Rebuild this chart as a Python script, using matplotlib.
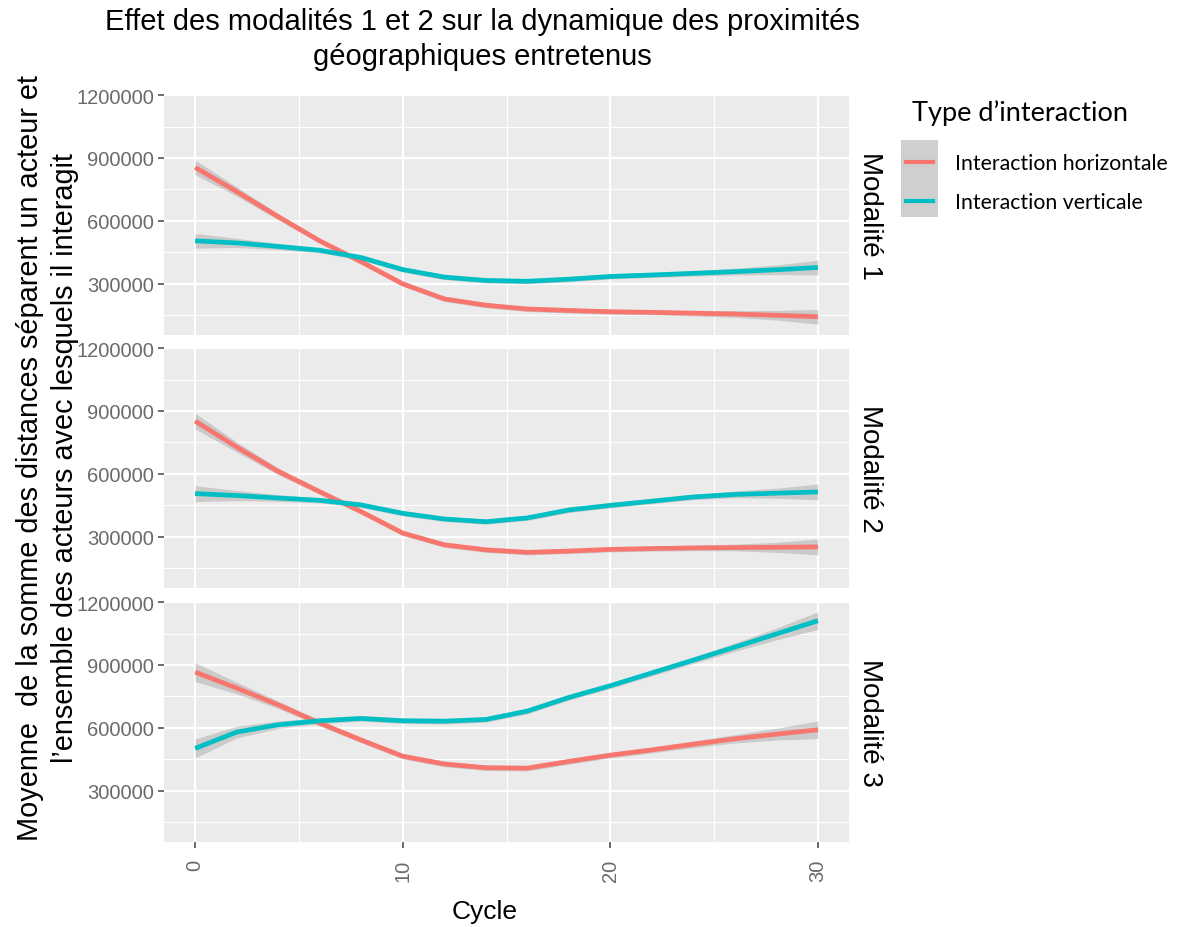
import matplotlib
matplotlib.use('Agg')
import matplotlib.pyplot as plt
from matplotlib.ticker import FixedLocator, NullFormatter
from matplotlib.patches import Rectangle
from matplotlib.lines import Line2D
import numpy as np

# ---------------- data ----------------
cycles = [0, 2, 4, 6, 8, 10, 12, 14, 16, 18, 20, 22, 24, 26, 28, 30]

horiz_m1 = [855000, 740000, 620000, 505000, 405000, 300000, 228000, 198000,
            180000, 173000, 167000, 164000, 160000, 156000, 150000, 143000]
vert_m1 = [505000, 495000, 478000, 460000, 425000, 368000, 332000, 316000,
           312000, 322000, 335000, 342000, 350000, 358000, 367000, 378000]

horiz_m2 = [852000, 728000, 612000, 515000, 420000, 318000, 262000, 238000,
            226000, 232000, 240000, 244000, 247000, 249000, 250000, 252000]
vert_m2 = [506000, 497000, 485000, 474000, 452000, 412000, 385000, 372000,
           390000, 428000, 450000, 470000, 490000, 502000, 508000, 514000]

horiz_m3 = [866000, 790000, 710000, 623000, 542000, 465000, 428000, 410000,
            408000, 440000, 470000, 495000, 522000, 548000, 570000, 591000]
vert_m3 = [502000, 580000, 615000, 634000, 645000, 634000, 632000, 640000,
           680000, 745000, 801000, 862000, 923000, 985000, 1048000, 1111000]

# half-width of the grey confidence ribbons
band_m1 = [35000, 22000, 15000, 12000, 12000, 12000, 12000, 12000,
           12000, 12000, 12000, 12000, 13000, 16000, 23000, 35000]
band_m2 = [38000, 24000, 16000, 12000, 12000, 12000, 12000, 12000,
           12000, 12000, 12000, 12000, 13000, 16000, 24000, 38000]
band_m3 = [45000, 28000, 18000, 14000, 13000, 13000, 13000, 13000,
           13000, 13000, 13000, 14000, 16000, 20000, 28000, 42000]

panel_labels = ['Modalité 1', 'Modalité 2', 'Modalité 3']
series_labels = ['Interaction horizontale', 'Interaction verticale']
series_colors = ['#F8766D', '#00BFC4']
y_major = [300000, 600000, 900000, 1200000]
y_minor = [150000, 450000, 750000, 1050000]
x_major = [0, 10, 20, 30]
x_minor = [5, 15, 25]

panels = [(horiz_m1, vert_m1, band_m1),
          (horiz_m2, vert_m2, band_m2),
          (horiz_m3, vert_m3, band_m3)]

# ---------------- figure ----------------
W, H = 1179, 928
fig = plt.figure(figsize=(W / 100, H / 100), dpi=100)
fig.patch.set_facecolor('white')

def rect(l, t, r, b):
    return [l / W, 1 - b / H, (r - l) / W, (b - t) / H]

FONT = 'Liberation Sans'
tops = [95, 348, 602]
ph = 241
x = np.array(cycles, dtype=float)

for i, (top, (h, v, band)) in enumerate(zip(tops, panels)):
    ax = fig.add_axes(rect(164, top, 849, top + ph))
    ax.set_facecolor('#EBEBEB')
    for s in ax.spines.values():
        s.set_visible(False)
    ax.set_xlim(-1.5, 31.5)
    ax.set_ylim(56000, 1205000)
    ax.xaxis.set_major_locator(FixedLocator(x_major))
    ax.xaxis.set_minor_locator(FixedLocator(x_minor))
    ax.yaxis.set_major_locator(FixedLocator(y_major))
    ax.yaxis.set_minor_locator(FixedLocator(y_minor))
    ax.yaxis.set_minor_formatter(NullFormatter())
    ax.grid(which='major', color='white', linewidth=1.6)
    ax.grid(which='minor', color='white', linewidth=0.8)
    ax.set_axisbelow(True)
    ax.tick_params(which='major', length=4, width=1.1, color='#444444',
                   labelsize=14.5, labelcolor='#6a6a6a', pad=3)
    ax.tick_params(which='minor', length=0)
    ax.set_yticklabels([str(t) for t in y_major], fontfamily=FONT)
    if i < 2:
        ax.tick_params(axis='x', which='both', labelbottom=False, length=0)
    else:
        ax.set_xticklabels([str(t) for t in x_major], rotation=90,
                           fontfamily=FONT, va='top')
        ax.tick_params(axis='x', pad=8)

    for vals, col in zip((h, v), series_colors):
        vals = np.array(vals, dtype=float)
        bw = np.array(band, dtype=float)
        ax.fill_between(x, vals - bw, vals + bw, color='#9a9a9a', alpha=0.4,
                        linewidth=0)
        ax.plot(x, vals, color=col, linewidth=3.4, solid_capstyle='butt',
                solid_joinstyle='round')

    ax.text(1.012, 0.5, panel_labels[i], transform=ax.transAxes, rotation=270,
            ha='left', va='center', fontsize=20, fontfamily=FONT,
            color='black')

# title
fig.text(482 / W, 1 - 22 / H, 'Effet des modalités 1 et 2 sur la dynamique des proximités',
         ha='center', va='center', fontsize=21, fontfamily=FONT)
fig.text(482 / W, 1 - 57 / H, 'géographiques entretenus',
         ha='center', va='center', fontsize=21, fontfamily=FONT)

# y label (two lines)
fig.text(30 / W, 1 - 458 / H,
         'Moyenne  de la somme des distances séparent un acteur et',
         rotation=90, ha='center', va='center', fontsize=20.8, fontfamily=FONT)
fig.text(65 / W, 1 - 458 / H,
         "l’ensemble des acteurs avec lesquels il interagit",
         rotation=90, ha='center', va='center', fontsize=20.8, fontfamily=FONT)

# x label
fig.text(485 / W, 1 - 912 / H, 'Cycle', ha='center', va='center',
         fontsize=19, fontfamily=FONT)

# legend
LFONT = 'Lato'
fig.text(912 / W, 1 - 113 / H, 'Type d’interaction', ha='left', va='center',
         fontsize=19.5, fontfamily=LFONT)
lax = fig.add_axes(rect(895, 135, 1179, 225))
lax.set_xlim(895, 1179)
lax.set_ylim(225, 135)
lax.axis('off')
lax.add_patch(Rectangle((901, 141), 37, 77, facecolor='#CFCFCF',
                        edgecolor='none'))
key_y = [163, 202]
for ky, col, lab in zip(key_y, series_colors, series_labels):
    lax.add_line(Line2D([906, 933], [ky, ky], color=col, linewidth=3))
    lax.text(955, ky + 1, lab, ha='left', va='center', fontsize=15.3,
             fontfamily=LFONT)

fig.savefig('out.png', dpi=100, facecolor='white')
